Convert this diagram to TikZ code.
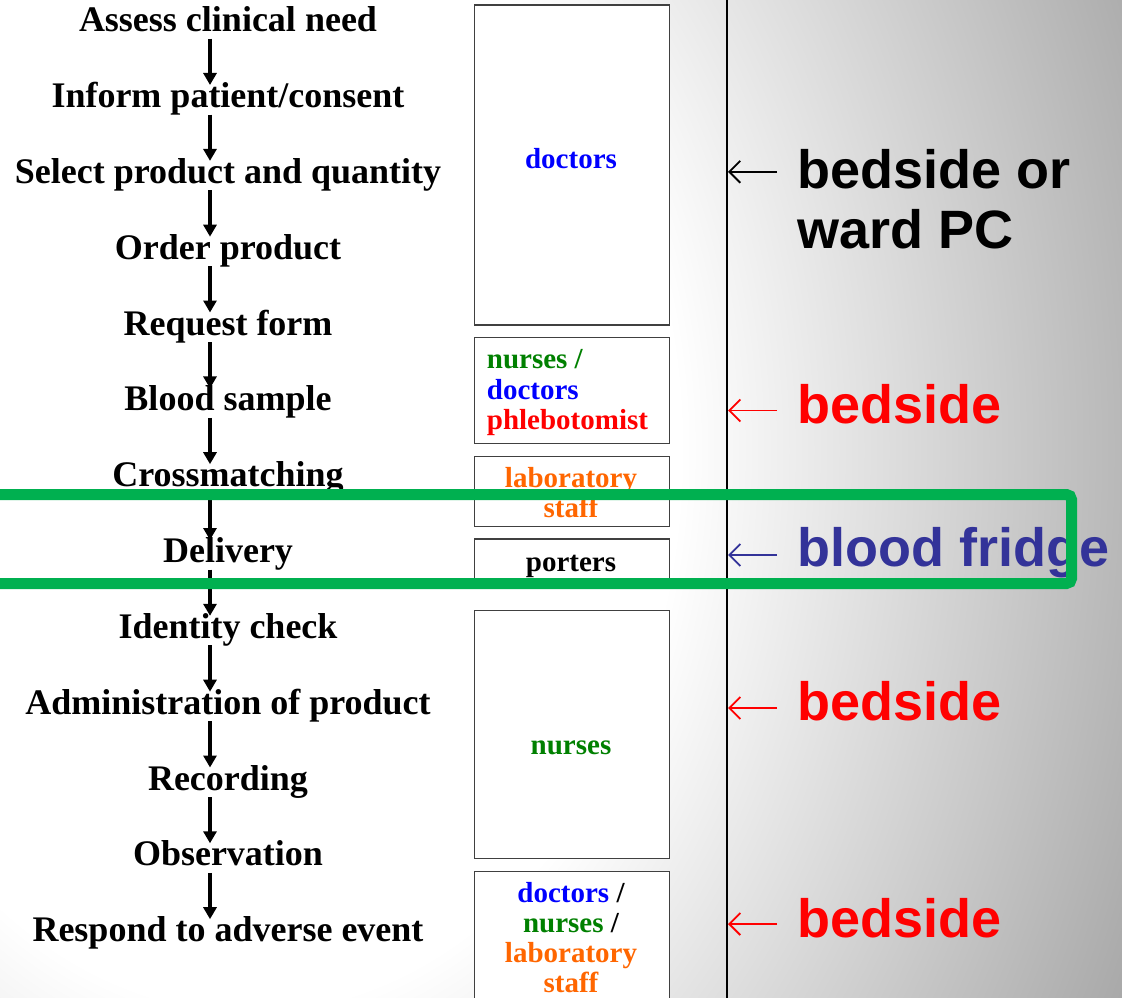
\documentclass[tikz,border=0pt]{standalone}
\usepackage{fontspec}
\setmainfont{Liberation Serif}
\setsansfont{Liberation Sans}
\usetikzlibrary{arrows.meta,calc}
\definecolor{docblue}{HTML}{0000FF}
\definecolor{nursegreen}{HTML}{008000}
\definecolor{alertred}{HTML}{FF0000}
\definecolor{laborange}{HTML}{FF6600}
\definecolor{fridgeblue}{HTML}{333399}
\definecolor{framegreen}{HTML}{00B050}
\definecolor{boxedge}{HTML}{404040}
% slide background: white around the steps, fading to grey towards the right
\pgfdeclareradialshading{slidebg}{\pgfpoint{0bp}{0bp}}{color(0bp)=(white); color(428bp)=(white); color(968bp)=(black!34); color(1150bp)=(black!42)}

\begin{document}
\begin{tikzpicture}[x=1pt,y=-1pt,
  stage/.style={font=\fontsize{36}{40}\selectfont\bfseries, inner sep=0pt, anchor=base},
  flow/.style={line width=3.2pt, -{Triangle[length=12pt,width=13pt]}},
  rolebox/.style={draw=boxedge, line width=1.6pt, fill=white, inner sep=0pt, anchor=north west, minimum width=195pt},
  role/.style={font=\fontsize{29}{32}\selectfont\bfseries, inner sep=0pt, anchor=base},
  roleleft/.style={role, anchor=base west},
  place/.style={font=\sffamily\bfseries\fontsize{54}{60}\selectfont, inner sep=0pt, anchor=base west},
  pointer/.style={line width=1.8pt, -{Straight Barb[length=11pt,width=22pt]}}]

\useasboundingbox (0,0) rectangle (1122,998);
\begin{scope}
\clip (0,0) rectangle (1122,998);
\begin{pgfscope}
  \pgftransformshift{\pgfpointxy{250}{450}}
  \pgftransformyscale{1.3}
  \pgftext{\pgfuseshading{slidebg}}
\end{pgfscope}

% divider between roles and locations
\draw[line width=1.8pt] (727,0) -- (727,998);

% process steps
\node[stage] (s1)  at (228,31.7)  {Assess clinical need};
\node[stage] (s2)  at (228,107.5) {Inform patient/consent};
\node[stage] (s3)  at (228,183.4) {Select product and quantity};
\node[stage] (s4)  at (228,259.2) {Order product};
\node[stage] (s5)  at (228,335.0) {Request form};
\node[stage] (s6)  at (228,410.9) {Blood sample};
\node[stage] (s7)  at (228,486.7) {Crossmatching};
\node[stage] (s8)  at (228,562.5) {Delivery};
\node[stage] (s9)  at (228,638.3) {Identity check};
\node[stage] (s10) at (228,714.2) {Administration of product};
\node[stage] (s11) at (228,790.0) {Recording};
\node[stage] (s12) at (228,865.8) {Observation};
\node[stage] (s13) at (228,941.7) {Respond to adverse event};

\foreach \a/\b in {s1/s2,s2/s3,s3/s4,s4/s5,s5/s6,s6/s7,s7/s8,s8/s9,s9/s10,s10/s11,s11/s12,s12/s13}
  \draw[flow] ([xshift=-18pt,yshift=-7pt]\a.base) -- ([xshift=-18pt,yshift=22.5pt]\b.base);

% role boxes
\node[rolebox, minimum height=320pt]   (r1) at (473.5,4)   {};
\node[rolebox, minimum height=106pt]   (r2) at (473.5,336.5) {};
\node[rolebox, minimum height=70pt]    (r3) at (473.5,455.5) {};
\node[rolebox, minimum height=46pt]    (r4) at (473.5,538)  {};
\node[rolebox, minimum height=248pt]   (r5) at (473.5,609.5) {};
\node[rolebox, minimum height=150pt]   (r6) at (473.5,870.5) {};

\node[role, text=docblue] (t1) at (571,168.5) {doctors};

\node[roleleft, text=nursegreen] (t2a) at (486.7,368.5) {nurses /};
\node[roleleft, text=docblue]    (t2b) at (486.7,399) {doctors};
\node[roleleft, text=alertred]   (t2c) at (486.7,429) {phlebotomist};

\node[role, text=laborange] (t3a) at (571,487) {laboratory};
\node[role, text=laborange] (t3b) at (571,517) {staff};

\node[role] (t4) at (571,571) {porters};

\node[role, text=nursegreen] (t5) at (571,754.5) {nurses};

\node[role] (t6a) at (571,902.5) {\textcolor{docblue}{doctors} /};
\node[role] (t6b) at (571,932.7) {\textcolor{nursegreen}{nurses} /};
\node[role, text=laborange] (t6c) at (571,962) {laboratory};
\node[role, text=laborange] (t6d) at (571,992) {staff};

% locations
\node[place] (l1a) at (797,188)   {bedside or};
\node[place] (l1b) at (797,248.2) {ward PC};
\node[place, text=alertred]   (l2) at (797,423)   {bedside};
\node[place, text=fridgeblue] (l3) at (797,566.5) {blood fridge};
\node[place, text=alertred]   (l4) at (797,720.5) {bedside};
\node[place, text=alertred]   (l5) at (797,937)   {bedside};

\coordinate (p1) at (728,171.8);
\coordinate (p2) at (728,410.5);
\coordinate (p3) at (728,555);
\coordinate (p4) at (728,708);
\coordinate (p5) at (728,924);

\draw[pointer, black]      ($(l1a.west |- p1)+(-20,0)$) -- (p1);
\draw[pointer, alertred]   ($(l2.west |- p2)+(-20,0)$) -- (p2);
\draw[pointer, fridgeblue] ($(l3.west |- p3)+(-20,0)$) -- (p3);
\draw[pointer, alertred]   ($(l4.west |- p4)+(-20,0)$) -- (p4);
\draw[pointer, alertred]   ($(l5.west |- p5)+(-20,0)$) -- (p5);

% highlight frame around the delivery stage
\draw[framegreen, line width=11pt, rounded corners=5pt] (-40,494.5) rectangle (1071.5,583.5);
\end{scope}
\end{tikzpicture}
\end{document}
